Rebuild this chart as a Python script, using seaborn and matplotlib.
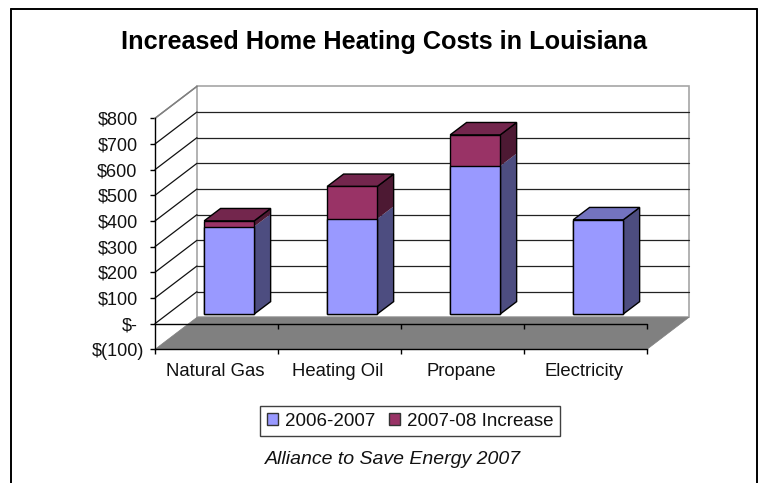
import numpy as np
import pandas as pd
import matplotlib
matplotlib.use("Agg")
import matplotlib.pyplot as plt
from matplotlib.lines import Line2D
from matplotlib.patches import Polygon
from matplotlib.transforms import ScaledTranslation
import seaborn as sns

categories = ["Natural Gas", "Heating Oil", "Propane", "Electricity"]
base_costs = [341, 371, 577, 367]
increases = [22, 126, 121, 0]
y_ticks = [-100, 0, 100, 200, 300, 400, 500, 600, 700, 800]
y_tick_labels = ["$(100)", "$-", "$100", "$200", "$300", "$400", "$500", "$600", "$700", "$800"]

W, H = 759, 483
# front plane of the chart in pixels
LEFT, RIGHT, TOP, BOTTOM = 155, 647, 118.3, 349.3
DEPTH_PX = (42, 32)
BAR_PLANE = 0.31
BAR_DEPTH = 0.40
BAR_WIDTH = 0.407

BLUE, BLUE_SIDE, BLUE_TOP = "#9999FF", "#4D4D80", "#7373BF"
RED, RED_SIDE, RED_TOP = "#993366", "#4D1933", "#73264D"

depth_x = DEPTH_PX[0] / (RIGHT - LEFT) * 4
depth_y = DEPTH_PX[1] / (BOTTOM - TOP) * 900


def axes_rect(left, right, top, bottom):
    return [left / W, 1 - bottom / H, (right - left) / W, (bottom - top) / H]


sns.set_theme(style="white")
plt.rcParams["font.family"] = ["Liberation Sans", "DejaVu Sans"]

fig = plt.figure(figsize=(W / 100, H / 100), dpi=100)
ax = fig.add_axes(axes_rect(LEFT, RIGHT, TOP, BOTTOM))
ax.set_xlim(-0.5, 3.5)
ax.set_ylim(-100, 800)

# plane where the bars stand, moved back into the chart
shift_x = 41 * BAR_PLANE
shift_y = 31 * BAR_PLANE
bar_ax = fig.add_axes(axes_rect(LEFT + shift_x, RIGHT + shift_x, TOP - shift_y, BOTTOM - shift_y))
bar_ax.patch.set_alpha(0)
bar_ax.axis("off")

# back wall
x0, x1 = -0.5, 3.5
ax.add_patch(Polygon([(x0 + depth_x, -100 + depth_y), (x1 + depth_x, -100 + depth_y),
                      (x1 + depth_x, 800 + depth_y), (x0 + depth_x, 800 + depth_y)],
                     closed=True, fc="white", ec="#A6A6A6", lw=1.2, clip_on=False, zorder=1))
ax.plot([x0, x0 + depth_x], [800, 800 + depth_y], color="#808080", lw=1.1, clip_on=False, zorder=2)

for val in y_ticks[1:]:
    col = "#808080" if val == 800 else "#111111"
    ax.plot([x0, x0 + depth_x], [val, val + depth_y], color=col, lw=0.9, clip_on=False, zorder=2)
    if val < 800:
        ax.plot([x0 + depth_x, x1 + depth_x], [val + depth_y, val + depth_y], color="#222222", lw=0.9,
                clip_on=False, zorder=2)

# floor
ax.add_patch(Polygon([(x0, -100), (x1, -100), (x1 + depth_x, -100 + depth_y), (x0 + depth_x, -100 + depth_y)],
                     closed=True, fc="#808080", ec="#808080", lw=0.5, clip_on=False, zorder=3))

# axis lines
ax.plot([x0, x1], [0, 0], color="black", lw=1, zorder=4, clip_on=False)
boundaries = np.arange(-0.5, 4)
ax.vlines(boundaries[1:], -20, 0, color="black", lw=1, zorder=4, clip_on=False)

df = pd.DataFrame({"category": categories, "base": base_costs, "increase": increases})
df["total"] = df["base"] + df["increase"]

sns.barplot(data=df, x="category", y="total", order=categories, color=RED, saturation=1, width=BAR_WIDTH,
            edgecolor="black", linewidth=1, ax=bar_ax, zorder=3)
sns.barplot(data=df, x="category", y="base", order=categories, color=BLUE, saturation=1, width=BAR_WIDTH,
            edgecolor="black", linewidth=1, ax=bar_ax, zorder=3)
bar_ax.set_xlim(-0.5, 3.5)
bar_ax.set_ylim(-100, 800)

# side and top faces of the boxes
dx = 41 / (RIGHT - LEFT) * 4 * BAR_DEPTH
dy = 31 / (BOTTOM - TOP) * 900 * BAR_DEPTH
for i, row in df.iterrows():
    right = i + BAR_WIDTH / 2
    left = i - BAR_WIDTH / 2
    bar_ax.add_patch(Polygon([(right, 0), (right, row["base"]), (right + dx, row["base"] + dy), (right + dx, dy)],
                             closed=True, fc=BLUE_SIDE, ec="none", clip_on=False, zorder=2))
    if row["increase"] > 0:
        bar_ax.add_patch(Polygon([(right, row["base"]), (right, row["total"]), (right + dx, row["total"] + dy),
                                  (right + dx, row["base"] + dy)],
                                 closed=True, fc=RED_SIDE, ec="none", clip_on=False, zorder=2))
    bar_ax.add_patch(Polygon([(right, 0), (right, row["total"]), (right + dx, row["total"] + dy), (right + dx, dy)],
                             closed=True, fc="none", ec="black", lw=1, clip_on=False, zorder=2))
    top_col = RED_TOP if row["increase"] > 0 else BLUE_TOP
    bar_ax.add_patch(Polygon([(left, row["total"]), (right, row["total"]), (right + dx, row["total"] + dy),
                              (left + dx, row["total"] + dy)],
                             closed=True, fc=top_col, ec="black", lw=1, clip_on=False, zorder=2))

# front axes
sns.despine(ax=ax, top=True, right=True)
ax.spines["left"].set_color("black")
ax.spines["bottom"].set_color("black")
ax.spines["left"].set_linewidth(1)
ax.spines["bottom"].set_linewidth(1)
ax.spines["left"].set_zorder(5)
ax.spines["bottom"].set_zorder(5)
ax.set_yticks(y_ticks)
ax.set_yticklabels(y_tick_labels)
ax.set_xticks(range(4))
ax.set_xticklabels(categories)
ax.set_xticks(boundaries, minor=True)
ax.tick_params(axis="y", left=True, length=3.5, width=1, color="black", pad=9, labelsize=13, labelcolor="#111111")
ax.tick_params(axis="x", which="major", bottom=False, length=0, pad=10, labelsize=13.3, labelcolor="#111111")
ax.tick_params(axis="x", which="minor", bottom=True, length=3.5, width=1, color="black")
ax.set_xlabel("")
ax.set_ylabel("")
ax.patch.set_alpha(0)

# the closing bracket of $(100) hangs past the other labels
neg_label = ax.get_yticklabels()[0]
neg_label.set_transform(neg_label.get_transform() + ScaledTranslation(7 / 100, 0, fig.dpi_scale_trans))
for lab in ax.get_xticklabels():
    lab.set_transform(lab.get_transform() + ScaledTranslation(-1.5 / 100, 0, fig.dpi_scale_trans))

handles = [Polygon([(0, 0)], fc=BLUE, ec="#333333", lw=1, label="2006-2007"),
           Polygon([(0, 0)], fc=RED, ec="#333333", lw=1, label="2007-08 Increase")]
fig.legend(handles=handles, loc="center", bbox_to_anchor=(410 / W, 1 - 421 / H), ncol=2, fontsize=13.5,
           fancybox=False, framealpha=1, edgecolor="#404040", handlelength=0.62, handleheight=0.62,
           handletextpad=0.35, columnspacing=0.7, borderpad=0.35, labelcolor="#111111")

fig.text(383.5 / W, 1 - 42 / H, "Increased Home Heating Costs in Louisiana", ha="center", va="center",
         fontsize=18.2, fontweight="bold", color="black")
fig.text(393 / W, 1 - 460 / H, "Alliance to Save Energy 2007", ha="center", va="center", fontsize=14,
         fontstyle="italic", color="#111111")

# chart frame, cut off at the bottom of the picture
for xs, ys in [([10.5, 10.5], [H, 8.5]), ([10.5, 756.5], [8.5, 8.5]), ([756.5, 756.5], [8.5, H])]:
    fig.add_artist(Line2D([v / W for v in xs], [1 - v / H for v in ys], color="black", lw=1.4))

fig.savefig("out.png", dpi=100)
